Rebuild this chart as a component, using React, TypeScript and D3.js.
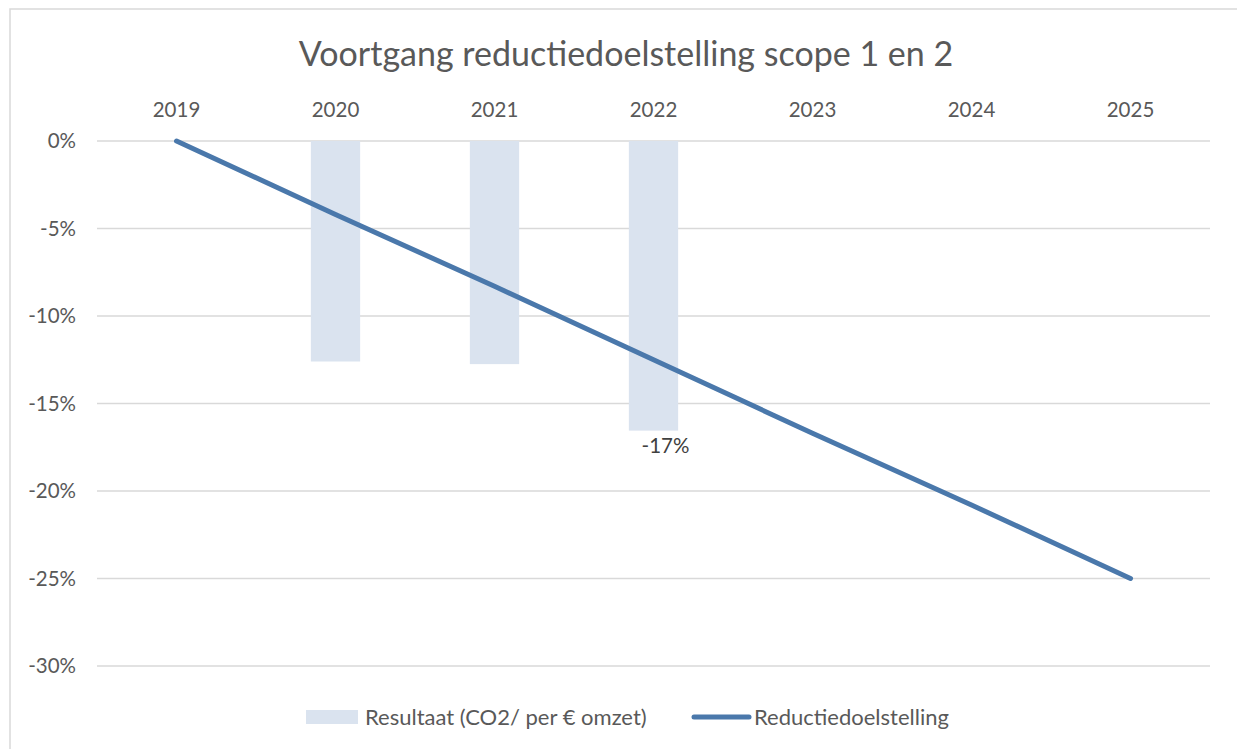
import { scaleBand, scaleLinear, line } from 'd3';

// Voortgang reductiedoelstelling: bars = measured result, line = target path.
const years = ['2019', '2020', '2021', '2022', '2023', '2024', '2025'];
const resultaat: (number | null)[] = [null, -12.6, -12.75, -16.55, null, null, null];
const doelstelling = [0, -4.2, -8.3, -12.5, -16.7, -20.8, -25];
const yTicks = [0, -5, -10, -15, -20, -25, -30];
const labelYears = ['2022'];

const W = 1237;
const H = 749;
const FONT = 'Lato, "Open Sans", sans-serif';
const INK = '#595959';
const BAR = '#dae3ef';
const LINE = '#4a78ab';
const GRID = '#d9d9d9';

export default function App() {
  const x = scaleBand<string>().domain(years).range([97, 1210]).padding(0);
  const y = scaleLinear().domain([0, -30]).range([141, 666]);
  const cx = (d: string) => (x(d) ?? 0) + x.bandwidth() / 2;
  const barW = x.bandwidth() * 0.31;

  const ln = line<number>()
    .x((_d, i) => cx(years[i]!))
    .y((d) => y(d));

  return (
    <svg width={W} height={H} viewBox={`0 0 ${W} ${H}`} style={{ position: 'absolute', left: 0, top: 0, display: 'block', background: '#fff' }} fontFamily={FONT}>
      <rect x={10} y={9} width={W + 10} height={H + 10} fill="#fff" stroke={GRID} strokeWidth={1.5} />

      <text x={626} y={66} textAnchor="middle" fill={INK} style={{ fontSize: 34 }}>
        Voortgang reductiedoelstelling scope 1 en 2
      </text>

      {yTicks.map((t) => (
        <g key={t}>
          <line x1={97} x2={1210} y1={y(t)} y2={y(t)} stroke={GRID} strokeWidth={1.3} />
          <text x={76} y={y(t)} dy="0.35em" textAnchor="end" fill={INK} style={{ fontSize: 20.5 }}>
            {t}%
          </text>
        </g>
      ))}

      {years.map((d) => (
        <text key={d} x={cx(d)} y={110} dy="0.35em" textAnchor="middle" fill={INK} style={{ fontSize: 20.5 }}>
          {d}
        </text>
      ))}

      {years.map((d, i) => {
        const v = resultaat[i];
        if (v == null) return null;
        return <rect key={d} x={cx(d) - barW / 2} y={y(0)} width={barW} height={y(v) - y(0)} fill={BAR} />;
      })}

      <path d={ln(doelstelling) ?? undefined} fill="none" stroke={LINE} strokeWidth={5} strokeLinecap="round" />

      {years.map((d, i) => {
        const v = resultaat[i];
        if (v == null || !labelYears.includes(d)) return null;
        return (
          <text key={d} x={cx(d) + 12} y={y(v) + 22} textAnchor="middle" fill="#404040" style={{ fontSize: 20.5 }}>
            {Math.round(v)}%
          </text>
        );
      })}

      <g>
        <rect x={306} y={710} width={52} height={14} fill={BAR} />
        <text x={365} y={717} dy="0.35em" fill={INK} style={{ fontSize: 22 }}>
          Resultaat (CO2/ per € omzet)
        </text>
        <line x1={694} x2={749} y1={717} y2={717} stroke={LINE} strokeWidth={5} strokeLinecap="round" />
        <text x={754} y={717} dy="0.35em" fill={INK} style={{ fontSize: 22 }}>
          Reductiedoelstelling
        </text>
      </g>
    </svg>
  );
}
